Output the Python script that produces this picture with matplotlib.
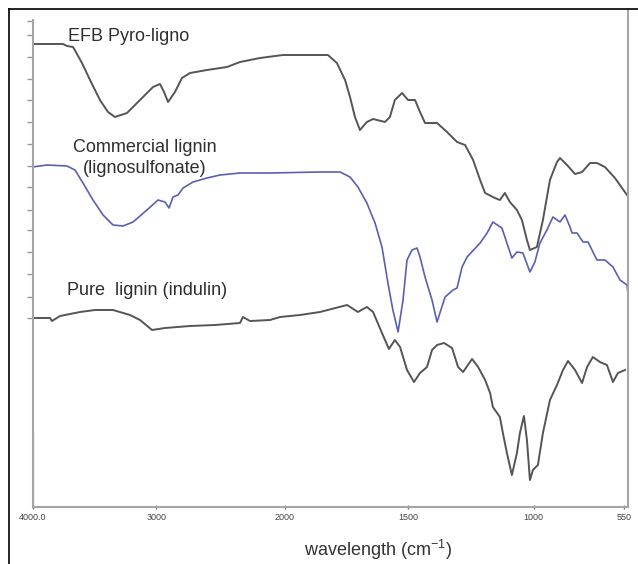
import matplotlib
matplotlib.use('Agg')
import matplotlib.pyplot as plt
from matplotlib.lines import Line2D
import numpy as np

plt.rcParams['font.family'] = ['Liberation Sans', 'DejaVu Sans']

# FTIR spectra (wavenumber, arbitrary transmittance)
efb_wn = [4000, 3754, 3722, 3673, 3601, 3536, 3456, 3391, 3335, 3238, 3133, 3028, 2973, 2941,
          2910, 2856, 2801, 2738, 2606, 2450, 2348, 2192, 2013, 1926, 1825, 1789, 1756, 1736,
          1716, 1696, 1668, 1643, 1595, 1575, 1555, 1526, 1502, 1474, 1454, 1434, 1386, 1346,
          1306, 1274, 1242, 1214, 1194, 1155, 1135, 1115, 1095, 1067, 1047, 1027, 1015, 984,
          954, 919, 884, 869, 834, 794, 759, 719, 685, 645, 595, 535]
efb_t = [463, 463, 461, 460, 444, 427, 407, 395, 390, 394, 407, 420, 423, 415,
         405, 415, 429, 434, 437, 440, 445, 449, 452, 452, 452, 444, 427, 410,
         390, 377, 385, 388, 385, 390, 407, 414, 407, 407, 395, 384, 384, 375,
         365, 362, 347, 327, 314, 309, 307, 314, 305, 297, 287, 267, 257, 260,
         287, 327, 345, 349, 342, 333, 335, 344, 344, 340, 329, 312]

comm_wn = [4000, 3883, 3722, 3657, 3593, 3512, 3431, 3351, 3270, 3189, 3077, 2988, 2934, 2902,
           2871, 2832, 2793, 2715, 2606, 2504, 2348, 2114, 1857, 1776, 1736, 1704, 1668, 1635,
           1607, 1583, 1563, 1542, 1522, 1506, 1486, 1466, 1454, 1434, 1406, 1386, 1354, 1322,
           1306, 1286, 1266, 1214, 1186, 1163, 1127, 1107, 1087, 1067, 1043, 1015, 994, 969,
           934, 904, 869, 844, 819, 809, 784, 754, 729, 685, 645, 605, 570, 535, 525]
comm_t = [340, 342, 341, 337, 324, 307, 292, 282, 281, 285, 297, 307, 305, 299,
          310, 312, 319, 325, 329, 332, 334, 334, 335, 335, 330, 320, 304, 284,
          260, 224, 197, 175, 207, 247, 257, 259, 250, 230, 207, 185, 210, 217,
          219, 240, 250, 264, 274, 285, 279, 264, 249, 255, 254, 235, 245, 264,
          277, 290, 285, 292, 280, 274, 274, 265, 265, 247, 247, 240, 227, 222, 204]

pure_wn = [4000, 3859, 3843, 3778, 3617, 3496, 3351, 3214, 3133, 3036, 2934, 2738, 2543, 2348,
           2325, 2270, 2114, 2036, 1938, 1857, 1748, 1704, 1668, 1643, 1607, 1579, 1555, 1534,
           1506, 1478, 1454, 1426, 1406, 1386, 1358, 1326, 1302, 1282, 1246, 1222, 1194, 1174,
           1163, 1135, 1123, 1107, 1087, 1067, 1055, 1039, 1027, 1015, 1003, 979, 954, 919,
           884, 854, 829, 794, 759, 734, 705, 670, 635, 605, 580, 545]
pure_t = [189, 189, 186, 191, 195, 197, 197, 192, 187, 177, 179, 181, 182, 184,
          190, 186, 187, 190, 192, 195, 202, 195, 200, 195, 174, 158, 167, 160,
          137, 125, 134, 140, 157, 162, 164, 159, 140, 135, 148, 140, 127, 114,
          100, 90, 74, 54, 32, 54, 74, 91, 67, 27, 37, 42, 74, 107,
          122, 137, 146, 137, 124, 140, 150, 145, 142, 125, 134, 137]

tick_wn = [4000, 3000, 2000, 1500, 1000, 550]
tick_labels = ['4000.0', '3000', '2000', '1500', '1000', '550']

# the instrument axis is compressed above 2000 cm-1
knot_wn = np.array([400, 550, 1000, 1500, 2000, 3000, 4000, 4200])
knot_px = np.array([654.1, 624, 533.7, 408.5, 284.6, 156.5, 32.5, 7.7])
knot_d = 700 - knot_px


def fwd(w):
    return np.interp(w, knot_wn, knot_d)


def inv(d):
    return np.interp(d, knot_d, knot_wn)


W, H = 638, 564
fig = plt.figure(figsize=(W / 100, H / 100), dpi=100)
ax = fig.add_axes([32.5 / W, (H - 507) / H, (628 - 32.5) / W, 498 / H])
ax.set_xscale('function', functions=(fwd, inv))
ax.set_xlim(4000, 530)
ax.set_ylim(0, 498)

ax.plot(efb_wn, efb_t, color='#555555', lw=1.4)
ax.plot(comm_wn, comm_t, color='#5a5fb4', lw=1.2)
ax.plot(pure_wn, pure_t, color='#555555', lw=1.4)

txt = dict(fontsize=13, color='#2e2e2e')
ax.text(3714, 471, 'EFB Pyro-ligno', va='center', ha='left', **txt)
ax.text(3093, 360, 'Commercial lignin', va='center', ha='center', **txt)
ax.text(3093, 339, '(lignosulfonate)', va='center', ha='center', **txt)
ax.text(3722, 217, 'Pure  lignin (indulin)', va='center', ha='left', **txt)

ax.spines['top'].set_visible(False)
for s in ['left', 'right', 'bottom']:
    ax.spines[s].set_color('#a5a5a5')
    ax.spines[s].set_linewidth(1.5)
ax.spines['left'].set_bounds(0, 487)
ax.axvline(4000, ymin=0, ymax=74 / 498, color='#8a8a8a', lw=1.6)

ax.set_xticks(tick_wn)
ax.set_xticklabels(tick_labels)
ax.xaxis.set_minor_locator(matplotlib.ticker.NullLocator())
ax.tick_params(axis='x', direction='inout', length=3, width=1, color='#777777',
               labelsize=6.5, labelcolor='#444444', pad=3)
ax.set_yticks([486, 472, 450, 428, 407, 385, 363, 341, 320, 297, 277, 255, 233, 210, 189])
ax.set_yticklabels([])
ax.tick_params(axis='y', direction='out', length=4, width=1, color='#999999')

fig.text(378 / W, 1 - 550 / H, 'wavelength (cm$^{\\mathregular{-1}}$)', ha='center', va='center',
         fontsize=13, color='#333333')

# outer frame lines
fig.add_artist(Line2D([9 / W, 9 / W], [0, 1 - 9 / H], color='black', lw=1.2))
fig.add_artist(Line2D([9 / W, 1], [1 - 9 / H, 1 - 9 / H], color='black', lw=1.2))

fig.savefig('out.png', dpi=100)
